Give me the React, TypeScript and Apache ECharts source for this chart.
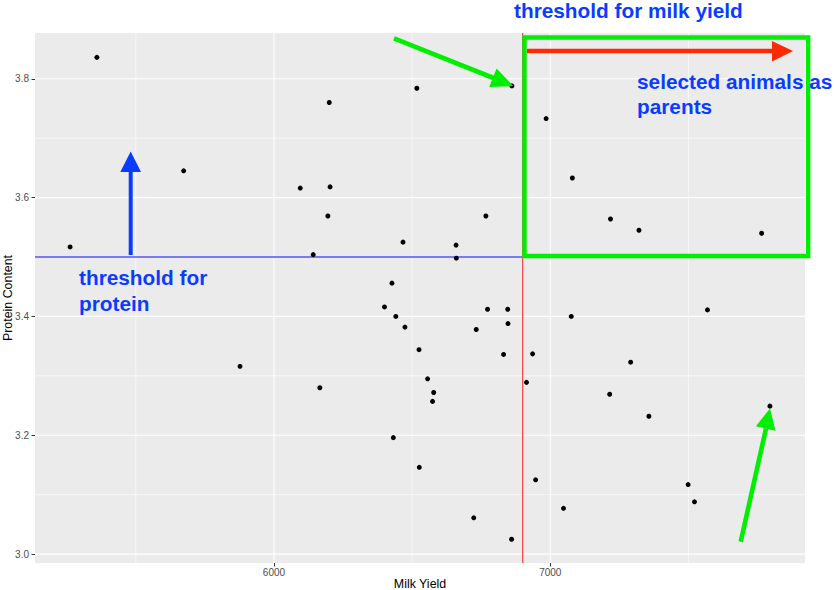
import React, { useEffect, useRef } from "react";
import * as echarts from "echarts";

// ---- data ----
const milkYield: number[] = [
  5359, 5262, 5673, 6095, 6200, 6203, 6195, 6142, 6427, 6467,
  6517, 6861, 6985, 7080, 7218, 7321, 7765, 6767, 6659, 6660,
  6400, 6441, 6474, 6525, 5877, 6166, 6432, 6526, 6773, 6846,
  6847, 6732, 6556, 6578, 6574, 6831, 6936, 6914, 7076, 7569,
  7291, 7215, 7357, 7795, 6947, 7499, 7522, 7048, 6723, 6860,
];
const proteinContent: number[] = [
  3.836, 3.517, 3.645, 3.616, 3.760, 3.618, 3.569, 3.504, 3.456, 3.525,
  3.784, 3.788, 3.733, 3.633, 3.564, 3.545, 3.540, 3.569, 3.520, 3.498,
  3.416, 3.400, 3.382, 3.344, 3.316, 3.280, 3.196, 3.146, 3.412, 3.412,
  3.388, 3.378, 3.295, 3.272, 3.257, 3.336, 3.337, 3.289, 3.400, 3.411,
  3.323, 3.269, 3.232, 3.249, 3.125, 3.117, 3.088, 3.077, 3.061, 3.025,
];
const milkThreshold = 6900;
const proteinThreshold = 3.5;

const xTickLabels: number[] = [6000, 7000];
const xMinorGrid: number[] = [5500, 6500, 7500];
const yTickLabels: number[] = [3.0, 3.2, 3.4, 3.6, 3.8];
const yMinorGrid: number[] = [3.1, 3.3, 3.5, 3.7];

const X_MIN = 5135;
const X_MAX = 7922;
const Y_MIN = 2.985;
const Y_MAX = 3.877;

const FONT = '"Liberation Sans", Arial, Helvetica, sans-serif';
const BLUE = "#0a3cff";
const GREEN = "#00ee00";
const RED = "#ff2a00";

export default function App() {
  const ref = useRef<HTMLDivElement>(null);

  useEffect(() => {
    if (!ref.current) return;
    const chart = echarts.init(ref.current, undefined, { renderer: "svg" });

    const gridSeries: any[] = [];
    const vLine = (x: number, w: number) => ({
      type: "line",
      data: [[x, Y_MIN], [x, Y_MAX]],
      symbol: "none",
      silent: true,
      z: 1,
      lineStyle: { color: "#ffffff", width: w },
    });
    const hLine = (y: number, w: number) => ({
      type: "line",
      data: [[X_MIN, y], [X_MAX, y]],
      symbol: "none",
      silent: true,
      z: 1,
      lineStyle: { color: "#ffffff", width: w },
    });
    xMinorGrid.forEach((x) => gridSeries.push(vLine(x, 0.6)));
    yMinorGrid.forEach((y) => gridSeries.push(hLine(y, 0.6)));
    xTickLabels.forEach((x) => gridSeries.push(vLine(x, 1.1)));
    yTickLabels.forEach((y) => gridSeries.push(hLine(y, 1.1)));

    const points = milkYield.map((x, i) => [x, proteinContent[i]]);

    const text = (t: string, x: number, y: number, size = 20.8) => ({
      type: "text",
      x,
      y,
      z: 100,
      style: {
        text: t,
        fill: BLUE,
        fontSize: size,
        fontWeight: "bold",
        fontFamily: FONT,
        verticalAlign: "middle",
        textAlign: "left",
      },
    });
    const shaft = (x1: number, y1: number, x2: number, y2: number, color: string, w = 4.5) => ({
      type: "line",
      z: 100,
      shape: { x1, y1, x2, y2 },
      style: { stroke: color, lineWidth: w, lineCap: "butt" },
    });
    const head = (pts: number[][], color: string) => ({
      type: "polygon",
      z: 100,
      shape: { points: pts },
      style: { fill: color },
    });

    chart.setOption({
      animation: false,
      backgroundColor: "#ffffff",
      grid: {
        left: 35,
        right: 29,
        top: 33,
        bottom: 27,
        show: true,
        backgroundColor: "#EBEBEB",
        borderWidth: 0,
        containLabel: false,
        outerBoundsMode: "none",
      },
      xAxis: {
        type: "value",
        min: X_MIN,
        max: X_MAX,
        name: "Milk Yield",
        nameLocation: "middle",
        nameGap: 15,
        nameMoveOverlap: false,
        nameTextStyle: { color: "#000000", fontSize: 12.4, fontFamily: FONT },
        axisLine: { show: false },
        axisTick: {
          show: true,
          length: 3.5,
          customValues: xTickLabels,
          lineStyle: { color: "#333333", width: 1 },
        },
        axisLabel: {
          customValues: xTickLabels,
          margin: 4,
          color: "#4d4d4d",
          fontSize: 10,
          fontFamily: FONT,
          formatter: (v: number) => String(v),
        },
        splitLine: { show: false },
      },
      yAxis: {
        type: "value",
        min: Y_MIN,
        max: Y_MAX,
        name: "Protein Content",
        nameLocation: "middle",
        nameGap: 21,
        nameMoveOverlap: false,
        nameTextStyle: { color: "#000000", fontSize: 12.4, fontFamily: FONT },
        axisLine: { show: false },
        axisTick: {
          show: true,
          length: 3.5,
          customValues: yTickLabels,
          lineStyle: { color: "#333333", width: 1 },
        },
        axisLabel: {
          customValues: yTickLabels,
          margin: 6,
          color: "#4d4d4d",
          fontSize: 10,
          fontFamily: FONT,
          formatter: (v: number) => v.toFixed(1),
        },
        splitLine: { show: false },
      },
      series: [
        ...gridSeries,
        {
          type: "line",
          data: [[X_MIN, proteinThreshold], [milkThreshold, proteinThreshold]],
          symbol: "none",
          silent: true,
          z: 2,
          lineStyle: { color: "#5252f2", width: 1.3 },
        },
        {
          type: "line",
          data: [[milkThreshold, Y_MIN], [milkThreshold, Y_MAX]],
          symbol: "none",
          silent: true,
          z: 2,
          lineStyle: { color: "#f25050", width: 1.3 },
        },
        {
          type: "scatter",
          data: points,
          symbol: "circle",
          symbolSize: 5,
          z: 3,
          itemStyle: { color: "#000000", opacity: 1 },
        },
      ],
      graphic: [
        {
          type: "rect",
          z: 100,
          shape: { x: 524.5, y: 37.5, width: 283.7, height: 218.5 },
          style: { fill: "none", stroke: GREEN, lineWidth: 4.4 },
        },
        shaft(527, 51, 774, 51, RED, 4.6),
        head([[772, 41], [793, 51], [772, 61.5]], RED),
        shaft(394, 38.3, 493.5, 78, GREEN, 4.6),
        head([[513.3, 86], [489.2, 87.1], [496.6, 68.5]], GREEN),
        shaft(740.7, 541.7, 766, 428.5, GREEN, 4.6),
        head([[770, 408.5], [775.5, 430.7], [755.9, 426.3]], GREEN),
        shaft(130.7, 255, 130.7, 170, BLUE, 4),
        head([[120.3, 172], [141, 172], [130.7, 151.5]], BLUE),
        text("threshold for milk yield", 514, 10.4),
        text("selected animals as", 637, 81.4),
        text("parents", 637, 106.9),
        text("threshold for", 79, 277.4),
        text("protein", 79, 303.9),
      ],
    });

    return () => chart.dispose();
  }, []);

  return (
    <div
      ref={ref}
      style={{ position: "absolute", left: 0, top: 0, width: 834, height: 590 }}
    />
  );
}
